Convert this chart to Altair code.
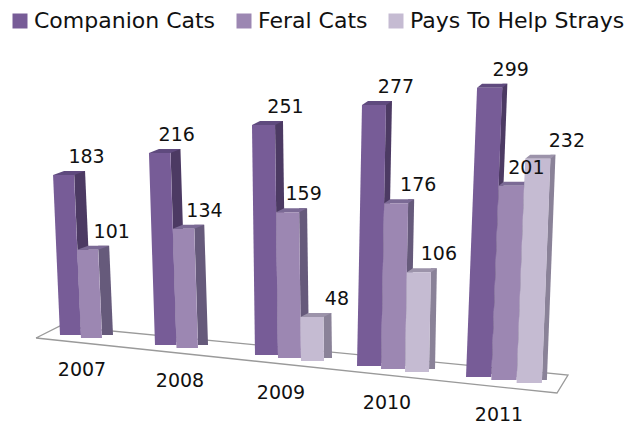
import altair as alt
import pandas as pd

years = ["2007", "2008", "2009", "2010", "2011"]
series_names = ["Companion Cats", "Feral Cats", "Pays To Help Strays"]
companion = [183, 216, 251, 277, 299]
feral = [101, 134, 159, 176, 201]
pays = [None, None, 48, 106, 232]
front_colors = ["#775C97", "#9C87B2", "#C5BBD2"]
side_colors = ["#4C3A63", "#665A7B", "#8A8298"]
top_colors = ["#5F4A7E", "#7B6A95", "#9C93AA"]

# perspective of the floor, one entry per year group
x_base = [60, 155, 255, 357, 466]
y_base = [335, 345, 355, 366, 377]
bar_w = [21, 21.5, 23, 24, 25.3]
depth = [11, 10, 8, 6, 5]
slant = [-0.038, -0.028, -0.012, 0.018, 0.037]
px_per_unit = [0.874, 0.889, 0.916, 0.942, 0.967]
year_x = [82, 180, 281, 387, 499]
year_y = [370, 381, 393, 403, 415]
floor_x = [36, 60, 568, 557, 36]
floor_y = [338, 326, 375, 393, 338]
# horizontal nudge of the value labels, per series and year
label_nudge = [[1, -5, 0, 0, -1], [2, -1, -6, 0, -7], [0, 0, 3, -2, 7]]

all_values = [companion, feral, pays]
front, side, top, labels = [], [], [], []
for s, (name, vals) in enumerate(zip(series_names, all_values)):
    for i, v in enumerate(vals):
        if v is None:
            continue
        key = f"{s}-{i}"
        xb = x_base[i] + s * bar_w[i]
        xt = xb + slant[i] * v
        yb = y_base[i] + 3 * s
        yt = yb - px_per_unit[i] * v
        w, d = bar_w[i], depth[i]
        front += [
            dict(series=name, bar=key, y=yt, a=xt, b=xt + w),
            dict(series=name, bar=key, y=yb, a=xb, b=xb + w),
        ]
        side += [
            dict(s=s, bar=key, y=yt - 4, a=xt + w, b=xt + w + d),
            dict(s=s, bar=key, y=yb - 3, a=xb + w, b=xb + w + d),
        ]
        top += [
            dict(s=s, bar=key, y=yt - 4, a=xt + d, b=xt + w + d),
            dict(s=s, bar=key, y=yt, a=xt, b=xt + w),
        ]
        labels.append(dict(value=v, x=xt + w / 2 + 22 + label_nudge[s][i], y=yt - 18))

xs = alt.Scale(domain=[8, 635], nice=False, zero=False)
ys = alt.Scale(domain=[425, 8], nice=False, zero=False)
X = alt.X("a:Q", scale=xs, axis=None, stack=None)
Y = alt.Y("y:Q", scale=ys, axis=None)
color_scale = alt.Scale(domain=series_names, range=front_colors)

floor_df = pd.DataFrame(dict(a=floor_x, y=floor_y, o=range(len(floor_x))))
layers = [
    alt.Chart(floor_df).mark_line(color="#9a9a9a", strokeWidth=1.3).encode(
        x=alt.X("a:Q", scale=xs, axis=None), y=Y, order="o:Q"
    )
]

front_df, side_df, top_df = pd.DataFrame(front), pd.DataFrame(side), pd.DataFrame(top)
for s, name in enumerate(series_names):
    layers.append(
        alt.Chart(side_df[side_df.s == s]).mark_area(orient="horizontal", color=side_colors[s]).encode(
            x=X, x2="b:Q", y=Y, detail="bar:N"
        )
    )
    layers.append(
        alt.Chart(top_df[top_df.s == s]).mark_area(orient="horizontal", color=top_colors[s]).encode(
            x=X, x2="b:Q", y=Y, detail="bar:N"
        )
    )
    layers.append(
        alt.Chart(front_df[front_df.series == name]).mark_area(orient="horizontal").encode(
            x=X, x2="b:Q", y=Y, detail="bar:N",
            color=alt.Color(
                "series:N",
                scale=color_scale,
                legend=alt.Legend(
                    title=None, orient="none", legendX=1, legendY=2, direction="horizontal",
                    columns=3, symbolType="square", symbolSize=225, symbolStrokeWidth=0,
                    labelFont="DejaVu Sans", labelFontSize=22, labelColor="#111",
                    columnPadding=17, labelOffset=3, labelLimit=280,
                ),
            ),
        )
    )

layers.append(
    alt.Chart(pd.DataFrame(labels)).mark_text(font="DejaVu Sans", fontSize=19, color="#111").encode(
        x=alt.X("x:Q", scale=xs, axis=None), y=Y, text="value:Q"
    )
)
layers.append(
    alt.Chart(pd.DataFrame(dict(year=years, x=year_x, y=year_y))).mark_text(
        font="DejaVu Sans", fontSize=19, color="#111"
    ).encode(x=alt.X("x:Q", scale=xs, axis=None), y=Y, text="year:N")
)

chart = (
    alt.layer(*layers)
    .properties(width=627, height=417, padding=0, background="white", autosize=alt.AutoSizeParams(type="none"))
    .configure_view(stroke=None)
)
chart.save("out.html", embed_options={"renderer": "svg", "actions": False})
